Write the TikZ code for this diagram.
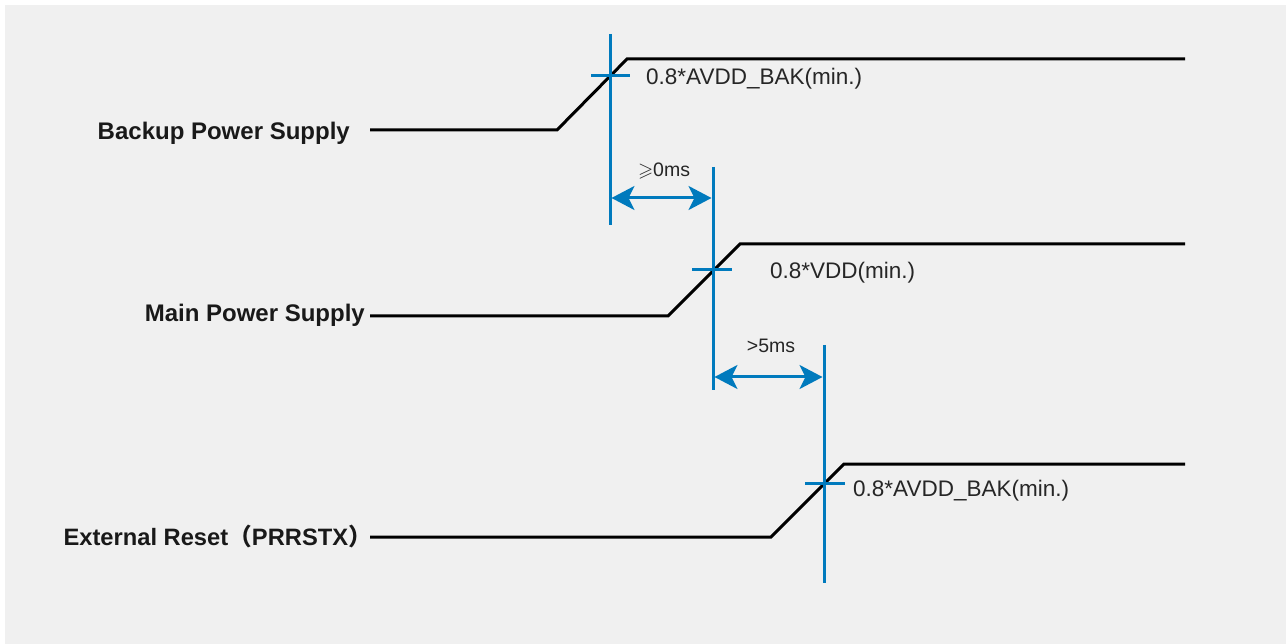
\documentclass[tikz,border=0pt]{standalone}
\usepackage{fontspec}
\usepackage{amssymb}
\usetikzlibrary{arrows.meta}
\setmainfont{Liberation Sans}
\newfontfamily\cjk{Noto Sans CJK SC}
\definecolor{tblue}{RGB}{0,122,189}
\definecolor{bgray}{RGB}{240,240,240}
\begin{document}
\begin{tikzpicture}[x=1pt,y=-1pt,
  sig/.style={line width=3pt, black, line join=miter},
  marker/.style={line width=3pt, tblue},
  dimarrow/.style={line width=3pt, tblue, {Stealth[length=23pt,width=24pt,inset=6pt]}-{Stealth[length=23pt,width=24pt,inset=6pt]}},
  lbl/.style={font=\bfseries\fontsize{24}{27}\selectfont, anchor=base east, inner sep=0pt, text=black!90},
  ann/.style={font=\fontsize{22.5}{25}\selectfont, anchor=base west, inner sep=0pt, text=black!85},
  dimtext/.style={font=\fontsize{19.5}{22}\selectfont, anchor=base, inner sep=0pt, text=black!85}]
\useasboundingbox (0,0) rectangle (1286,644);
\fill[white] (0,0) rectangle (1286,644);
\fill[bgray] (5,5) rectangle (1286,644);

% signal labels
\node[lbl] (lb) at (350,140) {Backup Power Supply};
\node[lbl] (lm) at (365,322) {Main Power Supply};
\node[lbl, font=\bfseries\fontsize{23.7}{27}\selectfont] (lr) at (372,545) {External Reset{\cjk （}PRRSTX{\cjk ）}};

% waveform points
\coordinate (b0) at (370,130); \coordinate (b1) at (557,130); \coordinate (b2) at (627,59); \coordinate (b3) at (1185,59);
\coordinate (m0) at (370,316); \coordinate (m1) at (668,316); \coordinate (m2) at (740,244); \coordinate (m3) at (1185,244);
\coordinate (r0) at (370,537); \coordinate (r1) at (771,537); \coordinate (r2) at (844,464); \coordinate (r3) at (1185,464);

\draw[sig] (b0) -- (b1) -- (b2) -- (b3);
\draw[sig] (m0) -- (m1) -- (m2) -- (m3);
\draw[sig] (r0) -- (r1) -- (r2) -- (r3);

% markers
\coordinate (v1t) at (610,34);  \coordinate (v1b) at (610,225);
\coordinate (v2t) at (713,167); \coordinate (v2b) at (713,390);
\coordinate (v3t) at (824,345); \coordinate (v3b) at (824,583);
\draw[marker] (v1t) -- (v1b);
\draw[marker] (v2t) -- (v2b);
\draw[marker] (v3t) -- (v3b);
\coordinate (t1l) at (591,76);  \coordinate (t1r) at (630,76);
\coordinate (t2l) at (692,270); \coordinate (t2r) at (732,270);
\coordinate (t3l) at (805,483); \coordinate (t3r) at (845,483);
\draw[marker] (t1l) -- (t1r);
\draw[marker] (t2l) -- (t2r);
\draw[marker] (t3l) -- (t3r);

% dimension arrows
\coordinate (d1l) at (611.5,198); \coordinate (d1r) at (711.5,198);
\coordinate (d2l) at (714.5,377); \coordinate (d2r) at (822.5,377);
\draw[dimarrow] (d1l) -- (d1r);
\draw[dimarrow] (d2l) -- (d2r);
\node[dimtext] (dt1) at (664,177) {$\geqslant$0ms};
\node[dimtext] (dt2) at (771,353) {>5ms};

% annotations
\node[ann] (a1) at (646,85) {0.8*AVDD\_BAK(min.)};
\node[ann] (a2) at (770,279) {0.8*VDD(min.)};
\node[ann] (a3) at (853,496) {0.8*AVDD\_BAK(min.)};
\end{tikzpicture}
\end{document}
